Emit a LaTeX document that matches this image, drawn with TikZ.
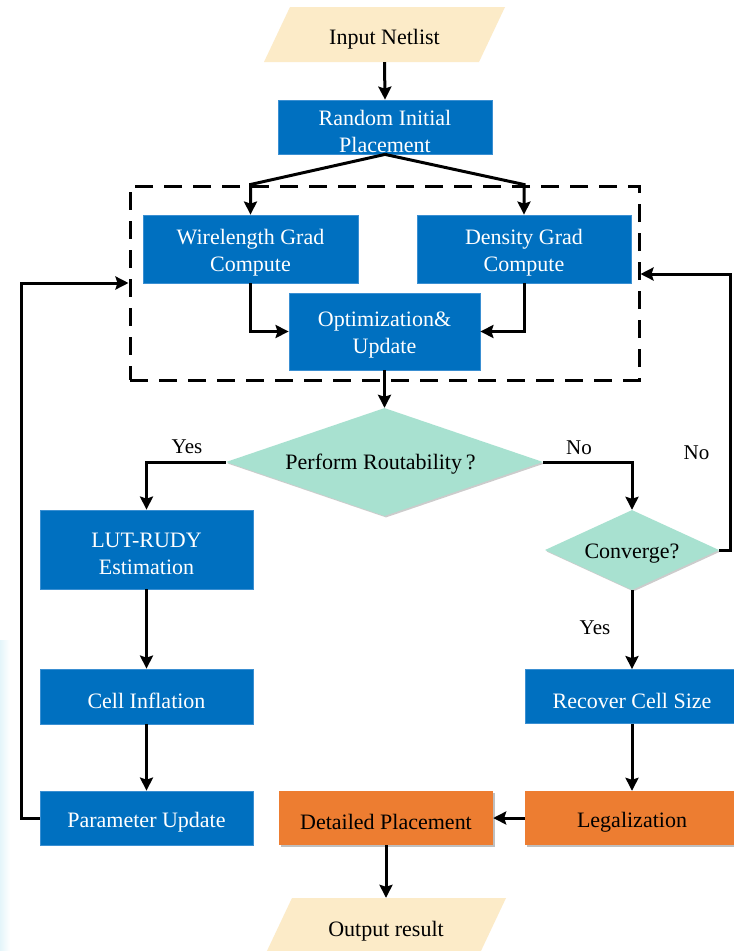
\documentclass[tikz,border=0pt]{standalone}
\usepackage{fontspec}
\setmainfont{Liberation Serif}
\usetikzlibrary{arrows.meta,shapes.geometric,calc,shadows}

\definecolor{stepblue}{HTML}{0070C0}
\definecolor{stepedge}{HTML}{3A8FD2}
\definecolor{finalorange}{HTML}{ED7D31}
\definecolor{ioCream}{HTML}{FCEBC8}
\definecolor{testMint}{HTML}{A8E1D0}
\definecolor{edgeTint}{HTML}{E4F5FA}

\begin{document}
\begin{tikzpicture}[x=1pt,y=-1pt,
  every node/.style={font=\fontsize{22}{27}\selectfont, inner sep=0pt, align=center},
  % box captions sit a little below the geometric centre
  whitecap/.style={text=white, yshift=-4pt},
  blackcap/.style={text=black, yshift=-4pt},
  bluebox/.style={rectangle, fill=stepblue, draw=stepedge, line width=0.8pt,
    minimum width=214pt, minimum height=54pt},
  orangebox/.style={rectangle, fill=finalorange,
    minimum width=214pt, minimum height=54pt,
    drop shadow={shadow xshift=1.5pt, shadow yshift=-1.5pt, fill=black, opacity=0.25}},
  decision/.style={diamond, fill=testMint,
    drop shadow={shadow xshift=1.5pt, shadow yshift=-1.5pt, fill=black, opacity=0.2}},
  iobox/.style={rectangle, minimum width=214pt, minimum height=55pt},
  loopframe/.style={rectangle, draw=black, line width=3pt,
    dash pattern=on 18pt off 11pt, minimum width=509pt, minimum height=194pt},
  flow/.style={line width=3pt, -{Stealth[length=13pt,width=13pt,inset=2pt]}},
  tag/.style={font=\fontsize{21}{25}\selectfont, text=black},
]
\clip (0,0) rectangle (734,951);
\fill[white] (0,0) rectangle (734,951);
% faint tint along the left margin
\fill[left color=edgeTint, right color=white] (0,640) rectangle (10,951);

% input / output parallelograms
\fill[ioCream] (264,62) -- (290,7) -- (505,7) -- (479,62) -- cycle;
\node[iobox, label={[blackcap, yshift=-1pt]center:Input Netlist}] (inp) at (384.5,34.5) {};
\fill[ioCream] (266,953) -- (292,898) -- (506,898) -- (480,953) -- cycle;
\node[iobox, label={[blackcap, yshift=-2pt]center:Output result}] (out) at (386,925.5) {};

% global placement steps
\node[bluebox, label={[whitecap]center:{Random Initial\\Placement}}] (rnd) at (385,127) {};
\node[loopframe] (loop) at (384.5,283) {};
\node[bluebox, minimum width=215pt, minimum height=68pt,
  label={[whitecap]center:{Wirelength Grad\\Compute}}] (wl) at (250.5,249) {};
\node[bluebox, minimum height=68pt,
  label={[whitecap]center:{Density Grad\\Compute}}] (dg) at (524,249) {};
\node[bluebox, minimum width=191pt, minimum height=77pt,
  label={[whitecap]center:{Optimization\&\\Update}}] (opt) at (384.5,331.5) {};

% decisions
\node[decision, minimum width=317pt, minimum height=108pt, aspect=2.93,
  label={[blackcap, yshift=2pt, xshift=-4pt]center:{Perform Routability\,?}}] (perf) at (384.5,462) {};
\node[decision, minimum width=174pt, minimum height=80pt, aspect=2.17,
  label={[blackcap]center:Converge?}] (conv) at (632,550) {};

% routability branch
\node[bluebox, minimum width=213pt, minimum height=79pt,
  label={[whitecap]center:{LUT-RUDY\\Estimation}}] (lut) at (146.5,549.5) {};
\node[bluebox, minimum width=213pt, minimum height=55pt,
  label={[whitecap]center:Cell Inflation}] (infl) at (146.5,696.5) {};
\node[bluebox, minimum width=213pt,
  label={[whitecap]center:Parameter Update}] (par) at (146.5,818) {};

% finishing steps
\node[bluebox, label={[whitecap]center:Recover Cell Size}] (rec) at (632,696.5) {};
\node[orangebox, label={[blackcap]center:Legalization}] (leg) at (632,818) {};
\node[orangebox, label={[blackcap]center:Detailed Placement}] (det) at (386,818) {};

% connectors
\draw[flow] (inp.south) -- (rnd.north);
\draw[flow] (rnd.south) -- (wl.north |- loop.north) -- (wl.north);
\draw[flow] (rnd.south) -- (dg.north |- loop.north) -- (dg.north);
\draw[flow] (wl.south) |- (opt.west);
\draw[flow] (dg.south) |- (opt.east);
\draw[flow] (opt.south) -- (perf.north);
\draw[flow] (perf.west) -| (lut.north);
\draw[flow] (perf.east) -| (conv.north);
\draw[flow] (lut.south) -- (infl.north);
\draw[flow] (infl.south) -- (par.north);
\draw[flow] (par.west) -- ++(-18,0) |- (loop.west);
\draw[flow] (conv.east) -- ++(11,0) |- ($(loop.east)+(0,-9)$);
\draw[flow] (conv.south) -- (rec.north);
\draw[flow] (rec.south) -- (leg.north);
\draw[flow] (leg.west) -- (det.east);
\draw[flow] (det.south) -- (out.north);

% branch labels
\node[tag] (yesA) at (187,447) {Yes};
\node[tag] (noA) at (579,447.5) {No};
\node[tag] (noB) at (696.5,452.5) {No};
\node[tag] (yesB) at (595,628) {Yes};
\end{tikzpicture}
\end{document}
